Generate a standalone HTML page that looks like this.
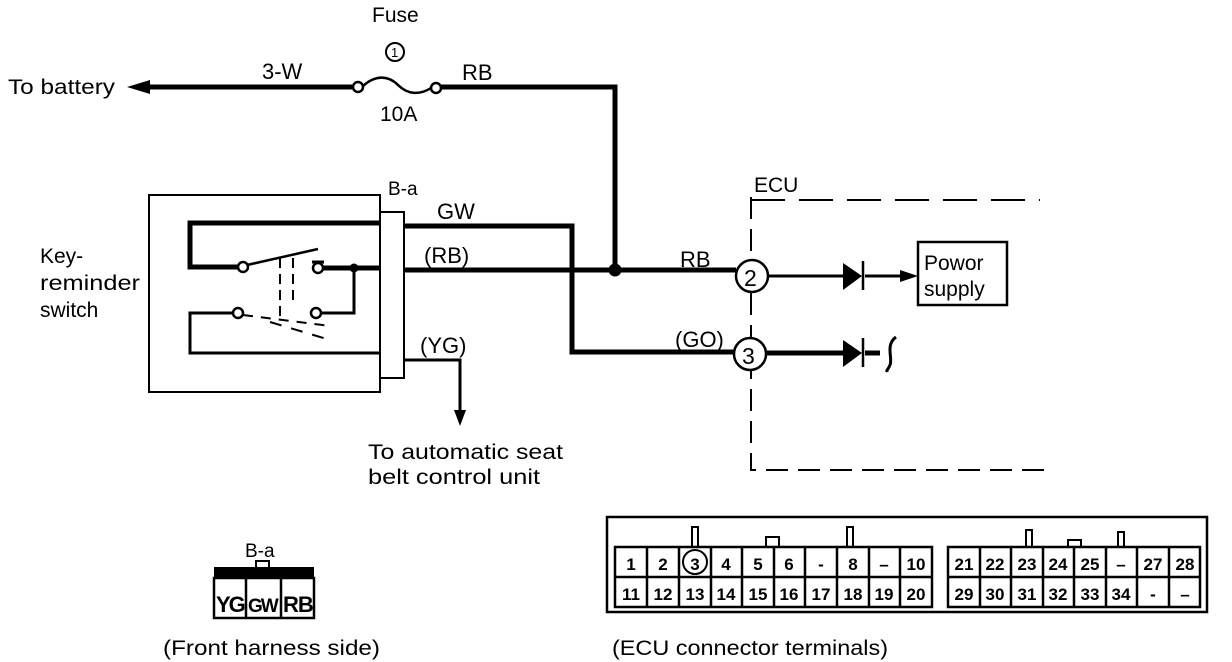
<!DOCTYPE html>
<html><head><style>
body{margin:0;background:#fff}
svg{display:block}
text{font-family:"Liberation Sans",sans-serif;fill:#000}
</style></head><body>
<svg width="1232" height="662" viewBox="0 0 1232 662" xmlns="http://www.w3.org/2000/svg">
<g fill="none" stroke="#000">
<path d="M140 87 H352" stroke-width="5"/>
<polygon points="127,87 150,80 150,94" fill="#000" stroke="none"/>
<circle cx="358" cy="87" r="5" stroke-width="2.5" fill="#fff"/>
<circle cx="436" cy="88" r="5" stroke-width="2.5" fill="#fff"/>
<path d="M363 86 C375 75,388 75,398 85 C408 95,420 95,431 88" stroke-width="2.5"/>
<path d="M441 87 H615 V270" stroke-width="5"/>
<circle cx="395" cy="52" r="9" stroke-width="2"/>
<rect x="149" y="195" width="231" height="197" stroke-width="2"/>
<rect x="380" y="212" width="24" height="166" stroke-width="2"/>
<path d="M380 223 H190 V267 H238" stroke-width="5"/>
<circle cx="243" cy="267" r="5" stroke-width="2.5" fill="#fff"/>
<path d="M247 265 L318 249" stroke-width="2.5"/>
<circle cx="318" cy="268" r="5" stroke-width="2.5" fill="#fff"/>
<path d="M312 262 H324" stroke-width="3"/>
<path d="M323 268 H380" stroke-width="5"/>
<circle cx="354" cy="268" r="4" fill="#000"/>
<path d="M354 268 V313 H321" stroke-width="3"/>
<circle cx="316" cy="313" r="5" stroke-width="2.5" fill="#fff"/>
<circle cx="238" cy="313" r="5" stroke-width="2.5" fill="#fff"/>
<path d="M233 313 H190 V353 H380" stroke-width="3"/>
<path d="M243 315 L330 326" stroke-width="2" stroke-dasharray="10 8"/>
<path d="M280 258 V320 M293 258 V305" stroke-width="2" stroke-dasharray="10 6"/>
<path d="M270 322 L330 340" stroke-width="2" stroke-dasharray="12 10"/>
<path d="M404 226 H572 V352 H735" stroke-width="5"/>
<path d="M404 270 H736" stroke-width="5"/>
<circle cx="615" cy="270" r="6" fill="#000"/>
<path d="M404 360 H460 V415" stroke-width="3"/>
<polygon points="460,426 454,410 466,410" fill="#000" stroke="none"/>
<path d="M751 197 V470 H1052" stroke-width="2" stroke-dasharray="22 10"/>
<path d="M751 200 H1040" stroke-width="2" stroke-dasharray="34 14"/>
<circle cx="752" cy="276" r="16" stroke-width="2.5" fill="#fff"/>
<circle cx="750" cy="354" r="16" stroke-width="2.5" fill="#fff"/>
<path d="M768 276 H843 M865 276 H905" stroke-width="3"/>
<polygon points="843,263 843,290 862,276" fill="#000" stroke="none"/>
<path d="M863 261 V290" stroke-width="2.5"/>
<polygon points="918,276 900,270 900,282" fill="#000" stroke="none"/>
<rect x="918" y="242" width="89" height="63" stroke-width="2.5"/>
<path d="M766 353 H843 M865 353 H880" stroke-width="5"/>
<polygon points="843,340 843,367 862,353" fill="#000" stroke="none"/>
<path d="M863 338 V367" stroke-width="2.5"/>
<path d="M896 337 C885 345,893 358,890 365 C888 370,885 372,888 370" stroke-width="3"/>
<rect x="214" y="567" width="100" height="12" fill="#000" stroke="none"/>
<rect x="256" y="561" width="13" height="7" stroke-width="2"/>
<rect x="214" y="578" width="100" height="40" stroke-width="2.5"/>
<path d="M246 578 V618 M281 578 V618" stroke-width="2.5"/>
<rect x="607" y="517" width="600" height="95" stroke-width="2.5"/>
<rect x="615" y="547" width="317" height="60" stroke-width="2.5"/>
<rect x="948" y="547" width="252" height="60" stroke-width="2.5"/>
<path d="M615 577 H932 M948 577 H1200" stroke-width="2.5"/>
<rect x="692" y="527" width="6" height="20" stroke-width="2"/>
<rect x="766" y="537" width="13" height="10" stroke-width="2"/>
<rect x="847" y="527" width="6" height="20" stroke-width="2"/>
<rect x="1026" y="530" width="6" height="17" stroke-width="2"/>
<rect x="1068" y="540" width="13" height="7" stroke-width="2"/>
<rect x="1118" y="532" width="6" height="15" stroke-width="2"/>
<circle cx="695" cy="562" r="12" stroke-width="2"/>
<path d="M647 547 V607 M679 547 V607 M711 547 V607 M742 547 V607 M774 547 V607 M805 547 V607 M837 547 V607 M869 547 V607 M900 547 V607" stroke-width="2.5"/>
<path d="M980 547 V607 M1011 547 V607 M1043 547 V607 M1074 547 V607 M1106 547 V607 M1137 547 V607 M1169 547 V607" stroke-width="2.5"/>
</g>
<g font-size="21">
<text x="8" y="94" textLength="107" lengthAdjust="spacingAndGlyphs">To battery</text>
<text x="262" y="79" font-size="22">3-W</text>
<text x="372" y="22">Fuse</text>
<text x="391" y="57" font-size="13">1</text>
<text x="380" y="121">10A</text>
<text x="462" y="80" font-size="22">RB</text>
<text x="388" y="195" font-size="19">B-a</text>
<text x="437" y="219" font-size="22">GW</text>
<text x="424" y="263" font-size="22">(RB)</text>
<text x="420" y="353" font-size="22">(YG)</text>
<text x="40" y="263">Key-</text>
<text x="40" y="290" textLength="100" lengthAdjust="spacingAndGlyphs">reminder</text>
<text x="40" y="317">switch</text>
<text x="368" y="459" textLength="195" lengthAdjust="spacingAndGlyphs">To automatic seat</text>
<text x="368" y="484" textLength="172" lengthAdjust="spacingAndGlyphs">belt control unit</text>
<text x="754" y="192" font-size="21">ECU</text>
<text x="680" y="267" font-size="22">RB</text>
<text x="675" y="347" font-size="22">(GO)</text>
<text x="744" y="286" font-size="23">2</text>
<text x="742" y="364" font-size="23">3</text>
<text x="924" y="270" font-size="21">Powor</text>
<text x="924" y="296" font-size="21">supply</text>
<text x="245" y="557" font-size="19">B-a</text>
<text x="216" y="612" font-size="22" font-weight="bold" letter-spacing="-2">YG</text>
<text x="248" y="612" font-size="19" font-weight="bold" letter-spacing="-2">GW</text>
<text x="283" y="612" font-size="22" font-weight="bold" letter-spacing="-1">RB</text>
<text x="163" y="655" textLength="217" lengthAdjust="spacingAndGlyphs">(Front harness side)</text>
<text x="612" y="655" textLength="276" lengthAdjust="spacingAndGlyphs">(ECU connector terminals)</text>
</g>
<g font-size="17" font-weight="bold" text-anchor="middle">
<text x="631" y="570">1</text><text x="663" y="570">2</text><text x="695" y="570">3</text><text x="726" y="570">4</text><text x="758" y="570">5</text><text x="789" y="570">6</text><text x="821" y="570">-</text><text x="853" y="570">8</text><text x="884" y="570">–</text><text x="916" y="570">10</text>
<text x="631" y="600">11</text><text x="663" y="600">12</text><text x="695" y="600">13</text><text x="726" y="600">14</text><text x="758" y="600">15</text><text x="789" y="600">16</text><text x="821" y="600">17</text><text x="853" y="600">18</text><text x="884" y="600">19</text><text x="916" y="600">20</text>
<text x="964" y="570">21</text><text x="995" y="570">22</text><text x="1027" y="570">23</text><text x="1058" y="570">24</text><text x="1090" y="570">25</text><text x="1121" y="570">–</text><text x="1153" y="570">27</text><text x="1185" y="570">28</text>
<text x="964" y="600">29</text><text x="995" y="600">30</text><text x="1027" y="600">31</text><text x="1058" y="600">32</text><text x="1090" y="600">33</text><text x="1121" y="600">34</text><text x="1153" y="600">-</text><text x="1185" y="600">–</text>
</g>
</svg>
</body></html>
